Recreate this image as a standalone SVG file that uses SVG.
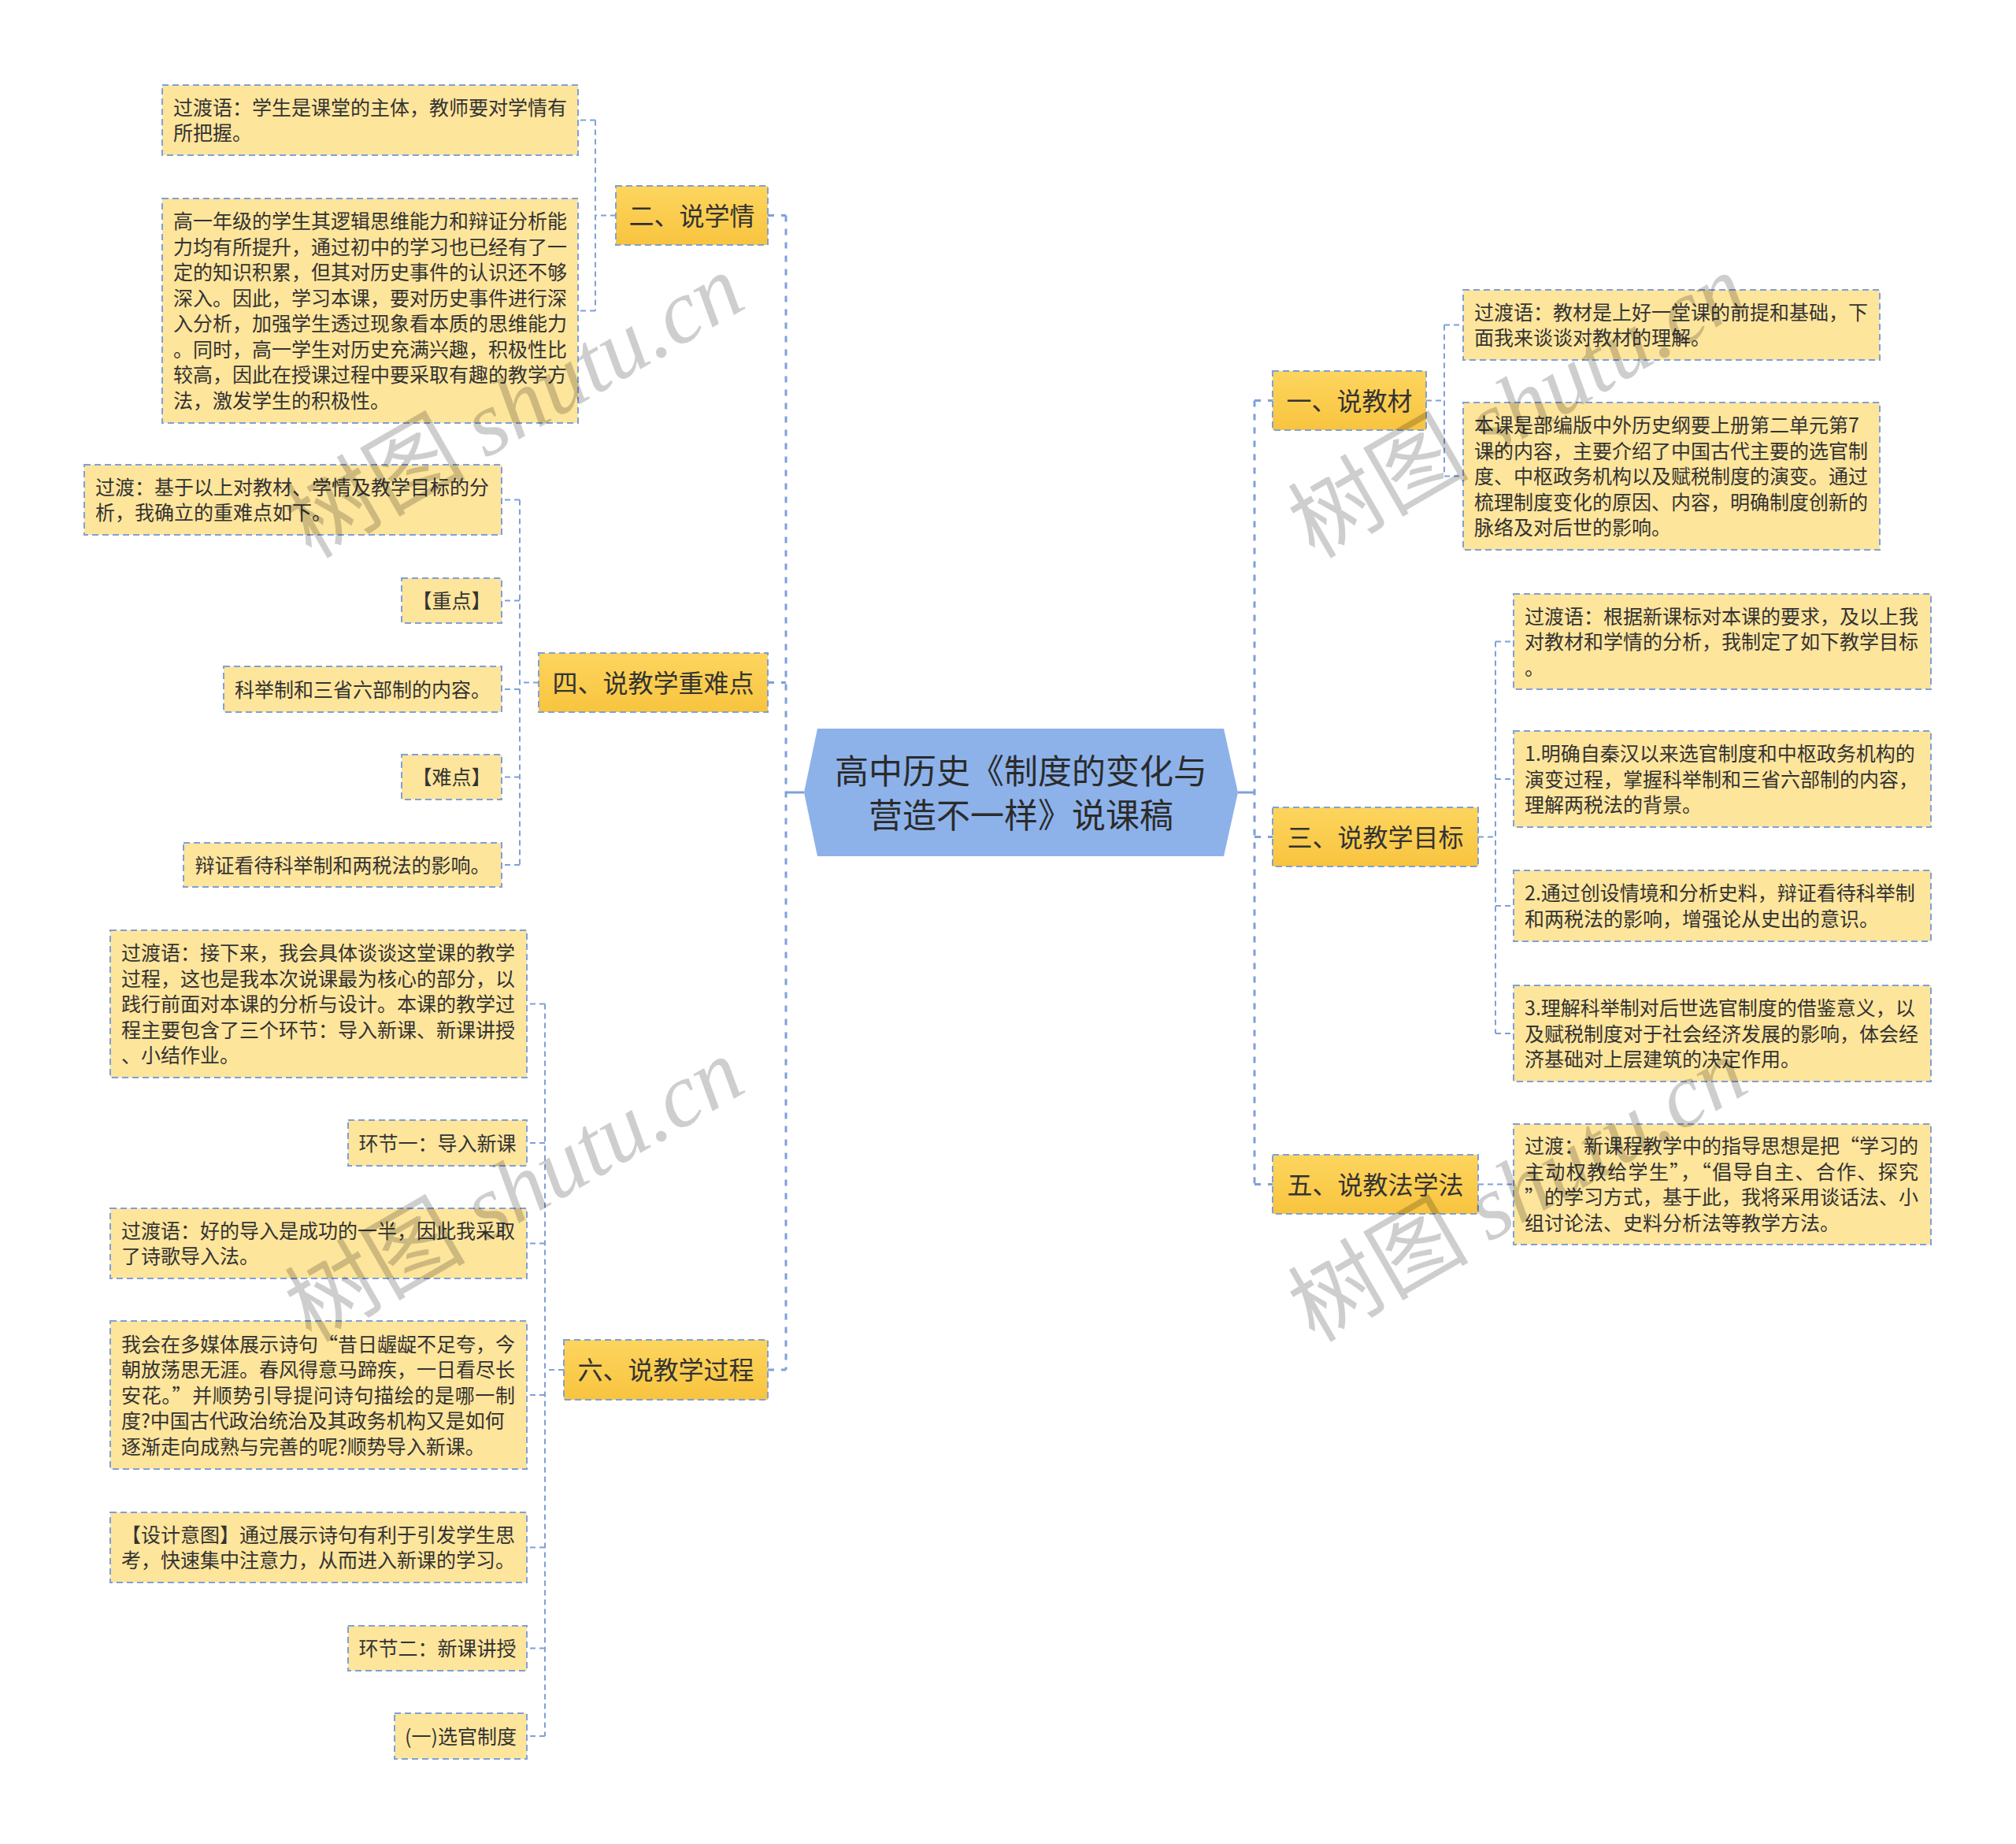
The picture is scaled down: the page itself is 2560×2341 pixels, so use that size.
<svg xmlns="http://www.w3.org/2000/svg" width="2560" height="2341" viewBox="0 0 2560 2341">
<defs>
<linearGradient id="gold" x1="0" y1="0" x2="0" y2="1">
<stop offset="0" stop-color="#FDD55E"/>
<stop offset="1" stop-color="#F8C43F"/>
</linearGradient>
<style>
.main{fill:none;stroke:#7FA0DA;stroke-width:3;stroke-dasharray:8 9}
.solid{fill:none;stroke:#7FA0DA;stroke-width:3}
.sub{fill:none;stroke:#7FA0DA;stroke-width:2;stroke-dasharray:7 5}
.leaf rect{fill:#FEE59C;stroke:#7FA0DA;stroke-width:2;stroke-dasharray:8 5}
.branch rect{fill:url(#gold);stroke:#7FA0DA;stroke-width:2;stroke-dasharray:8 5}
text{font-family:"Noto Sans CJK SC","Noto Sans",sans-serif;fill:#333333}
.t{font-size:25px}
.c{font-size:25px;text-anchor:middle}
.b{font-size:32px;text-anchor:middle}
.root{font-size:43px;text-anchor:middle;fill:#2b2b2b}
.wm{font-size:115px;fill:#000;opacity:0.19;text-anchor:middle}
.wm .lat{font-family:"Liberation Serif",serif;font-style:italic}
</style>
</defs>
<rect width="2560" height="2341" fill="#FFFFFF"/>

<g id="connectors">
<path class="main" d="M998,273.5 V1739 M975,273.5 H998 M975,866.5 H998 M975,1739 H998"/>
<path class="main" d="M1593,508.5 V1503.5 M1593,508.5 H1616 M1593,1062.5 H1616 M1593,1503.5 H1616"/>
<path class="solid" d="M1021,1006 H998 M1572,1006 H1593"/>
<path class="sub" d="M782,273.5 H756 M756,152.5 V394.5 M756,152.5 H734 M756,394.5 H734"/>
<path class="sub" d="M684,866.5 H660 M660,634.5 V1098 M660,634.5 H637 M660,762.5 H637 M660,875 H637 M660,986.5 H637 M660,1098 H637"/>
<path class="sub" d="M716,1739 H692 M692,1274.5 V2204 M692,1274.5 H669 M692,1451 H669 M692,1578.5 H669 M692,1771 H669 M692,1964.5 H669 M692,2092.5 H669 M692,2204 H669"/>
<path class="sub" d="M1811,508.5 H1834 M1834,412.5 V604.5 M1834,412.5 H1858 M1834,604.5 H1858"/>
<path class="sub" d="M1877,1062.5 H1899 M1899,814.5 V1312 M1899,814.5 H1922 M1899,989 H1922 M1899,1150 H1922 M1899,1312 H1922"/>
<path class="sub" d="M1877,1503.5 H1922"/>
</g>

<g id="root">
<polygon points="1021,1006 1038,925 1554,925 1572,1006 1554,1087 1038,1087" fill="#8DB2EA"/>
<text class="root" x="1296.5" y="995">高中历史《制度的变化与</text>
<text class="root" x="1296.5" y="1051">营造不一样》说课稿</text>
</g>

<!-- 二 -->
<g id="b2" class="branch"><rect x="782" y="236" width="193" height="75"/><text class="b" x="878.5" y="285.5">二、说学情</text></g>
<g id="b2c1" class="leaf"><rect x="206" y="108" width="528" height="89"/>
<text class="t" x="220" y="145.75">过渡语：学生是课堂的主体，教师要对学情有</text>
<text class="t" x="220" y="178.25">所把握。</text></g>
<g id="b2c2" class="leaf"><rect x="206" y="252" width="528" height="285"/>
<text class="t" x="220" y="290.25">高一年级的学生其逻辑思维能力和辩证分析能</text>
<text class="t" x="220" y="322.75">力均有所提升，通过初中的学习也已经有了一</text>
<text class="t" x="220" y="355.25">定的知识积累，但其对历史事件的认识还不够</text>
<text class="t" x="220" y="387.75">深入。因此，学习本课，要对历史事件进行深</text>
<text class="t" x="220" y="420.25">入分析，加强学生透过现象看本质的思维能力</text>
<text class="t" x="220" y="452.75">。同时，高一学生对历史充满兴趣，积极性比</text>
<text class="t" x="220" y="485.25">较高，因此在授课过程中要采取有趣的教学方</text>
<text class="t" x="220" y="517.75">法，激发学生的积极性。</text></g>

<!-- 四 -->
<g id="b4" class="branch"><rect x="684" y="829" width="291" height="75"/><text class="b" x="829.5" y="878.5">四、说教学重难点</text></g>
<g id="b4c1" class="leaf"><rect x="107" y="590" width="530" height="89"/>
<text class="t" x="121" y="627.75">过渡：基于以上对教材、学情及教学目标的分</text>
<text class="t" x="121" y="660.25">析，我确立的重难点如下。</text></g>
<g id="b4c2" class="leaf"><rect x="510" y="734" width="127" height="57"/><text class="c" x="573.5" y="772">【重点】</text></g>
<g id="b4c3" class="leaf"><rect x="284" y="846" width="353" height="58"/><text class="c" x="460.5" y="884.5">科举制和三省六部制的内容。</text></g>
<g id="b4c4" class="leaf"><rect x="510" y="958" width="127" height="57"/><text class="c" x="573.5" y="996">【难点】</text></g>
<g id="b4c5" class="leaf"><rect x="233" y="1070" width="404" height="56"/><text class="c" x="435" y="1107.5">辩证看待科举制和两税法的影响。</text></g>

<!-- 六 -->
<g id="b6" class="branch"><rect x="716" y="1701" width="259" height="76"/><text class="b" x="845.5" y="1751">六、说教学过程</text></g>
<g id="b6c1" class="leaf"><rect x="140" y="1181" width="529" height="187"/>
<text class="t" x="154" y="1219">过渡语：接下来，我会具体谈谈这堂课的教学</text>
<text class="t" x="154" y="1251.5">过程，这也是我本次说课最为核心的部分，以</text>
<text class="t" x="154" y="1284">践行前面对本课的分析与设计。本课的教学过</text>
<text class="t" x="154" y="1316.5">程主要包含了三个环节：导入新课、新课讲授</text>
<text class="t" x="154" y="1349">、小结作业。</text></g>
<g id="b6c2" class="leaf"><rect x="442" y="1422" width="227" height="58"/><text class="c" x="555.5" y="1460.5">环节一：导入新课</text></g>
<g id="b6c3" class="leaf"><rect x="140" y="1534" width="529" height="89"/>
<text class="t" x="154" y="1571.75">过渡语：好的导入是成功的一半，因此我采取</text>
<text class="t" x="154" y="1604.25">了诗歌导入法。</text></g>
<g id="b6c4" class="leaf"><rect x="140" y="1677" width="529" height="188"/>
<text class="t" x="154" y="1715.5" textLength="500" lengthAdjust="spacing">我会在多媒体展示诗句“昔日龌龊不足夸，今</text>
<text class="t" x="154" y="1748">朝放荡思无涯。春风得意马蹄疾，一日看尽长</text>
<text class="t" x="154" y="1780.5" textLength="500" lengthAdjust="spacing">安花。”并顺势引导提问诗句描绘的是哪一制</text>
<text class="t" x="154" y="1813">度?中国古代政治统治及其政务机构又是如何</text>
<text class="t" x="154" y="1845.5">逐渐走向成熟与完善的呢?顺势导入新课。</text></g>
<g id="b6c5" class="leaf"><rect x="140" y="1920" width="529" height="89"/>
<text class="t" x="154" y="1957.75">【设计意图】通过展示诗句有利于引发学生思</text>
<text class="t" x="154" y="1990.25">考，快速集中注意力，从而进入新课的学习。</text></g>
<g id="b6c6" class="leaf"><rect x="442" y="2064" width="227" height="57"/><text class="c" x="555.5" y="2102">环节二：新课讲授</text></g>
<g id="b6c7" class="leaf"><rect x="501" y="2175" width="168" height="58"/><text class="c" x="585" y="2213.5">(一)选官制度</text></g>

<!-- 一 -->
<g id="b1" class="branch"><rect x="1616" y="471" width="195" height="75"/><text class="b" x="1713.5" y="520.5">一、说教材</text></g>
<g id="b1c1" class="leaf"><rect x="1858" y="368" width="529" height="89"/>
<text class="t" x="1872" y="405.75">过渡语：教材是上好一堂课的前提和基础，下</text>
<text class="t" x="1872" y="438.25">面我来谈谈对教材的理解。</text></g>
<g id="b1c2" class="leaf"><rect x="1858" y="511" width="529" height="187"/>
<text class="t" x="1872" y="549">本课是部编版中外历史纲要上册第二单元第7</text>
<text class="t" x="1872" y="581.5">课的内容，主要介绍了中国古代主要的选官制</text>
<text class="t" x="1872" y="614">度、中枢政务机构以及赋税制度的演变。通过</text>
<text class="t" x="1872" y="646.5">梳理制度变化的原因、内容，明确制度创新的</text>
<text class="t" x="1872" y="679">脉络及对后世的影响。</text></g>

<!-- 三 -->
<g id="b3" class="branch"><rect x="1616" y="1025" width="261" height="75"/><text class="b" x="1746.5" y="1074.5">三、说教学目标</text></g>
<g id="b3c1" class="leaf"><rect x="1922" y="754" width="530" height="121"/>
<text class="t" x="1936" y="791.5">过渡语：根据新课标对本课的要求，及以上我</text>
<text class="t" x="1936" y="824">对教材和学情的分析，我制定了如下教学目标</text>
<text class="t" x="1936" y="856.5">。</text></g>
<g id="b3c2" class="leaf"><rect x="1922" y="928" width="530" height="122"/>
<text class="t" x="1936" y="966">1.明确自秦汉以来选官制度和中枢政务机构的</text>
<text class="t" x="1936" y="998.5">演变过程，掌握科举制和三省六部制的内容，</text>
<text class="t" x="1936" y="1031">理解两税法的背景。</text></g>
<g id="b3c3" class="leaf"><rect x="1922" y="1105" width="530" height="90"/>
<text class="t" x="1936" y="1143.25">2.通过创设情境和分析史料，辩证看待科举制</text>
<text class="t" x="1936" y="1175.75">和两税法的影响，增强论从史出的意识。</text></g>
<g id="b3c4" class="leaf"><rect x="1922" y="1251" width="530" height="122"/>
<text class="t" x="1936" y="1289">3.理解科举制对后世选官制度的借鉴意义，以</text>
<text class="t" x="1936" y="1321.5">及赋税制度对于社会经济发展的影响，体会经</text>
<text class="t" x="1936" y="1354">济基础对上层建筑的决定作用。</text></g>

<!-- 五 -->
<g id="b5" class="branch"><rect x="1616" y="1466" width="261" height="75"/><text class="b" x="1746.5" y="1515.5">五、说教法学法</text></g>
<g id="b5c1" class="leaf"><rect x="1922" y="1427" width="530" height="153"/>
<text class="t" x="1936" y="1464.25" textLength="500" lengthAdjust="spacing">过渡：新课程教学中的指导思想是把“学习的</text>
<text class="t" x="1936" y="1496.75" textLength="500" lengthAdjust="spacing">主动权教给学生”，“倡导自主、合作、探究</text>
<text class="t" x="1936" y="1529.25" textLength="500" lengthAdjust="spacing">”的学习方式，基于此，我将采用谈话法、小</text>
<text class="t" x="1936" y="1561.75">组讨论法、史料分析法等教学方法。</text></g>

<g id="watermarks">
<text class="wm" transform="translate(653,515) rotate(-30)" y="40">树图 <tspan class="lat">shutu.cn</tspan></text>
<text class="wm" transform="translate(653,1510) rotate(-30)" y="40">树图 <tspan class="lat">shutu.cn</tspan></text>
<text class="wm" transform="translate(1927,515) rotate(-30)" y="40">树图 <tspan class="lat">shutu.cn</tspan></text>
<text class="wm" transform="translate(1927,1510) rotate(-30)" y="40">树图 <tspan class="lat">shutu.cn</tspan></text>
</g>
</svg>
